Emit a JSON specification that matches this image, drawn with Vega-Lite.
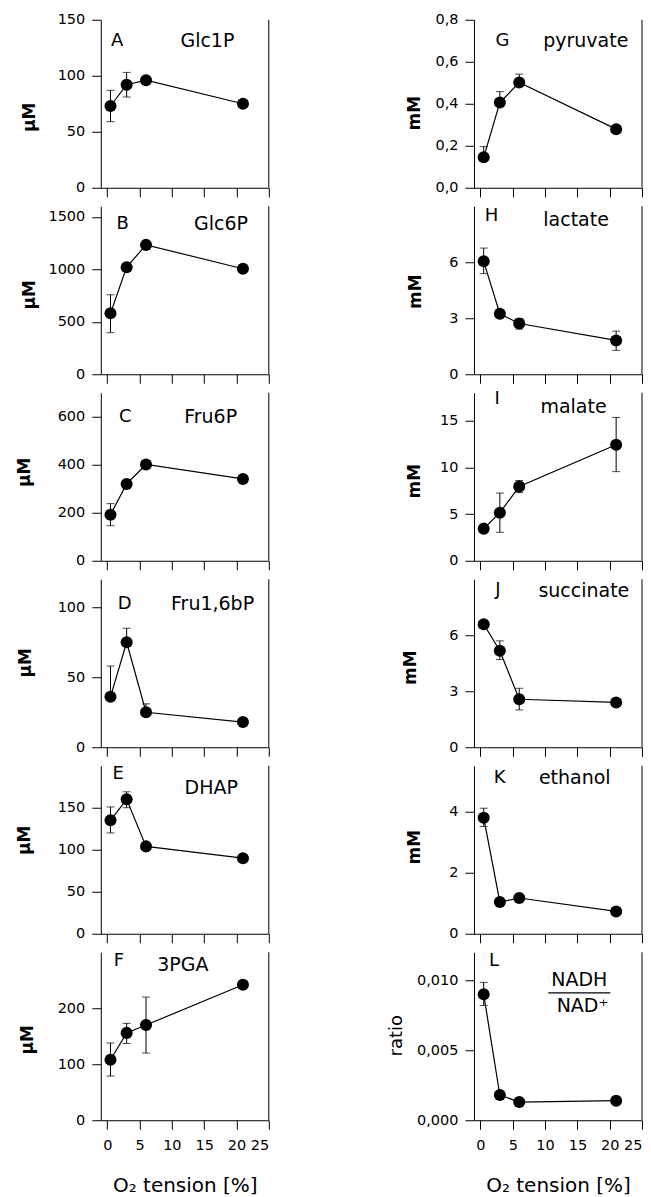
{
  "$schema": "https://vega.github.io/schema/vega-lite/v6.json",
  "autosize": {"type": "pad"},
  "padding": {"left": 14.8, "top": 11.75, "right": 0, "bottom": 0},
  "background": "white",
  "datasets": {
    "A": [{"o2": 0.5, "v": 73, "lo": 59, "hi": 87}, {"o2": 3, "v": 92, "lo": 81, "hi": 103}, {"o2": 6, "v": 96}, {"o2": 21, "v": 75}],
    "B": [{"o2": 0.5, "v": 580, "lo": 396, "hi": 757}, {"o2": 3, "v": 1020}, {"o2": 6, "v": 1232}, {"o2": 21, "v": 1005}],
    "C": [{"o2": 0.5, "v": 192, "lo": 146, "hi": 238}, {"o2": 3, "v": 320}, {"o2": 6, "v": 401}, {"o2": 21, "v": 341}],
    "D": [{"o2": 0.5, "v": 36, "lo": 36, "hi": 58}, {"o2": 3, "v": 75, "lo": 75, "hi": 85}, {"o2": 6, "v": 25, "lo": 25, "hi": 31}, {"o2": 21, "v": 18}],
    "E": [{"o2": 0.5, "v": 135, "lo": 120, "hi": 151}, {"o2": 3, "v": 160, "lo": 150, "hi": 169}, {"o2": 6, "v": 104}, {"o2": 21, "v": 90}],
    "F": [{"o2": 0.5, "v": 108, "lo": 79, "hi": 138}, {"o2": 3, "v": 156, "lo": 137, "hi": 173}, {"o2": 6, "v": 170, "lo": 120, "hi": 220}, {"o2": 21, "v": 242}],
    "G": [{"o2": 0.5, "v": 0.145, "lo": 0.145, "hi": 0.196}, {"o2": 3, "v": 0.406, "lo": 0.406, "hi": 0.458}, {"o2": 6, "v": 0.501, "lo": 0.501, "hi": 0.541}, {"o2": 21, "v": 0.279}],
    "H": [{"o2": 0.5, "v": 6.05, "lo": 5.39, "hi": 6.76}, {"o2": 3, "v": 3.24}, {"o2": 6, "v": 2.72, "lo": 2.42, "hi": 2.98}, {"o2": 21, "v": 1.81, "lo": 1.28, "hi": 2.31}],
    "I": [{"o2": 0.5, "v": 3.44}, {"o2": 3, "v": 5.15, "lo": 3.05, "hi": 7.25}, {"o2": 6, "v": 7.95, "lo": 7.3, "hi": 8.6}, {"o2": 21, "v": 12.43, "lo": 9.55, "hi": 15.35}],
    "J": [{"o2": 0.5, "v": 6.59}, {"o2": 3, "v": 5.17, "lo": 4.7, "hi": 5.7}, {"o2": 6, "v": 2.57, "lo": 2.0, "hi": 3.16}, {"o2": 21, "v": 2.4}],
    "K": [{"o2": 0.5, "v": 3.8, "lo": 3.51, "hi": 4.11}, {"o2": 3, "v": 1.04}, {"o2": 6, "v": 1.17}, {"o2": 21, "v": 0.73}],
    "L": [{"o2": 0.5, "v": 0.009, "lo": 0.0082, "hi": 0.00985}, {"o2": 3, "v": 0.0018}, {"o2": 6, "v": 0.0013}, {"o2": 21, "v": 0.0014}]
  },
  "config": {
    "font": "DejaVu Sans",
    "view": {"stroke": null},
    "axis": {"grid": false, "domainColor": "black", "tickColor": "black", "labelColor": "black", "titleColor": "black", "labelFontSize": 14.5, "tickSize": 9, "domainWidth": 1, "tickWidth": 1, "labelPadding": 7, "labelOverlap": false},
    "axisY": {"titleFontSize": 17, "titleFontWeight": "bold", "titleBaseline": "middle", "titleAlign": "center", "titleAngle": 270},
    "text": {"color": "black", "align": "center", "baseline": "middle"}
  },
  "hconcat": [
    {
      "spacing": 18.5,
      "bounds": "flush",
      "vconcat": [
        {
          "width": 168, "height": 168, "data": {"name": "A"},
          "layer": [
            {"mark": {"type": "line", "color": "black", "strokeWidth": 1.2}, "encoding": {
              "x": {"field": "o2", "type": "quantitative", "scale": {"domain": [-1, 25], "nice": false, "zero": false}, "axis": {"values": [0, 5, 10, 15, 20, 25], "labels": false, "title": null}},
              "y": {"field": "v", "type": "quantitative", "scale": {"domain": [0, 150], "nice": false}, "axis": {"values": [0, 50, 100, 150], "format": "d", "title": "µM", "titleX": -71.2, "titleY": 97}}}},
            {"transform": [{"filter": "isValid(datum.hi)"}], "mark": {"type": "errorbar", "ticks": {"size": 8, "color": "black"}, "rule": {"color": "black"}, "thickness": 1}, "encoding": {
              "x": {"field": "o2", "type": "quantitative", "axis": {"values": [0, 5, 10, 15, 20, 25], "labels": false, "title": null}},
              "y": {"field": "lo", "type": "quantitative", "axis": {"values": [0, 50, 100, 150], "format": "d", "title": "µM", "titleX": -71.2, "titleY": 97}}, "y2": {"field": "hi"}}},
            {"mark": {"type": "circle", "size": 145, "color": "black", "opacity": 1}, "encoding": {
              "x": {"field": "o2", "type": "quantitative", "axis": {"values": [0, 5, 10, 15, 20, 25], "labels": false, "title": null}},
              "y": {"field": "v", "type": "quantitative", "axis": {"values": [0, 50, 100, 150], "format": "d", "title": "µM", "titleX": -71.2, "titleY": 97}}}},
            {"transform": [{"filter": "datum.o2 == 21"}], "mark": {"type": "rule", "color": "black"}, "encoding": {
              "x": {"datum": 25, "type": "quantitative", "axis": {"values": [0, 5, 10, 15, 20, 25], "labels": false, "title": null}}}},
            {"transform": [{"filter": "datum.o2 == 21"}], "mark": {"type": "text", "fontSize": 18}, "encoding": {
              "x": {"datum": 1.55, "type": "quantitative", "axis": {"values": [0, 5, 10, 15, 20, 25], "labels": false, "title": null}},
              "y": {"datum": 131, "type": "quantitative", "axis": {"values": [0, 50, 100, 150], "format": "d", "title": "µM", "titleX": -71.2, "titleY": 97}}, "text": {"value": "A"}}},
            {"transform": [{"filter": "datum.o2 == 21"}], "mark": {"type": "text", "fontSize": 19}, "encoding": {
              "x": {"datum": 15.5, "type": "quantitative", "axis": {"values": [0, 5, 10, 15, 20, 25], "labels": false, "title": null}},
              "y": {"datum": 131, "type": "quantitative", "axis": {"values": [0, 50, 100, 150], "format": "d", "title": "µM", "titleX": -71.2, "titleY": 97}}, "text": {"value": "Glc1P"}}}
          ]
        },
        {
          "width": 168, "height": 168, "data": {"name": "B"},
          "layer": [
            {"mark": {"type": "line", "color": "black", "strokeWidth": 1.2}, "encoding": {
              "x": {"field": "o2", "type": "quantitative", "scale": {"domain": [-1, 25], "nice": false, "zero": false}, "axis": {"values": [0, 5, 10, 15, 20, 25], "labels": false, "title": null}},
              "y": {"field": "v", "type": "quantitative", "scale": {"domain": [0, 1600], "nice": false}, "axis": {"values": [0, 500, 1000, 1500], "format": "d", "title": "µM", "titleX": -71.2, "titleY": 88}}}},
            {"transform": [{"filter": "isValid(datum.hi)"}], "mark": {"type": "errorbar", "ticks": {"size": 8, "color": "black"}, "rule": {"color": "black"}, "thickness": 1}, "encoding": {
              "x": {"field": "o2", "type": "quantitative", "axis": {"values": [0, 5, 10, 15, 20, 25], "labels": false, "title": null}},
              "y": {"field": "lo", "type": "quantitative", "axis": {"values": [0, 500, 1000, 1500], "format": "d", "title": "µM", "titleX": -71.2, "titleY": 88}}, "y2": {"field": "hi"}}},
            {"mark": {"type": "circle", "size": 145, "color": "black", "opacity": 1}, "encoding": {
              "x": {"field": "o2", "type": "quantitative", "axis": {"values": [0, 5, 10, 15, 20, 25], "labels": false, "title": null}},
              "y": {"field": "v", "type": "quantitative", "axis": {"values": [0, 500, 1000, 1500], "format": "d", "title": "µM", "titleX": -71.2, "titleY": 88}}}},
            {"transform": [{"filter": "datum.o2 == 21"}], "mark": {"type": "rule", "color": "black"}, "encoding": {
              "x": {"datum": 25, "type": "quantitative", "axis": {"values": [0, 5, 10, 15, 20, 25], "labels": false, "title": null}}}},
            {"transform": [{"filter": "datum.o2 == 21"}], "mark": {"type": "text", "fontSize": 18}, "encoding": {
              "x": {"datum": 2.4, "type": "quantitative", "axis": {"values": [0, 5, 10, 15, 20, 25], "labels": false, "title": null}},
              "y": {"datum": 1434, "type": "quantitative", "axis": {"values": [0, 500, 1000, 1500], "format": "d", "title": "µM", "titleX": -71.2, "titleY": 88}}, "text": {"value": "B"}}},
            {"transform": [{"filter": "datum.o2 == 21"}], "mark": {"type": "text", "fontSize": 19}, "encoding": {
              "x": {"datum": 17.6, "type": "quantitative", "axis": {"values": [0, 5, 10, 15, 20, 25], "labels": false, "title": null}},
              "y": {"datum": 1434, "type": "quantitative", "axis": {"values": [0, 500, 1000, 1500], "format": "d", "title": "µM", "titleX": -71.2, "titleY": 88}}, "text": {"value": "Glc6P"}}}
          ]
        },
        {
          "width": 168, "height": 168, "data": {"name": "C"},
          "layer": [
            {"mark": {"type": "line", "color": "black", "strokeWidth": 1.2}, "encoding": {
              "x": {"field": "o2", "type": "quantitative", "scale": {"domain": [-1, 25], "nice": false, "zero": false}, "axis": {"values": [0, 5, 10, 15, 20, 25], "labels": false, "title": null}},
              "y": {"field": "v", "type": "quantitative", "scale": {"domain": [0, 700], "nice": false}, "axis": {"values": [0, 200, 400, 600], "format": "d", "title": "µM", "titleX": -75.9, "titleY": 79}}}},
            {"transform": [{"filter": "isValid(datum.hi)"}], "mark": {"type": "errorbar", "ticks": {"size": 8, "color": "black"}, "rule": {"color": "black"}, "thickness": 1}, "encoding": {
              "x": {"field": "o2", "type": "quantitative", "axis": {"values": [0, 5, 10, 15, 20, 25], "labels": false, "title": null}},
              "y": {"field": "lo", "type": "quantitative", "axis": {"values": [0, 200, 400, 600], "format": "d", "title": "µM", "titleX": -75.9, "titleY": 79}}, "y2": {"field": "hi"}}},
            {"mark": {"type": "circle", "size": 145, "color": "black", "opacity": 1}, "encoding": {
              "x": {"field": "o2", "type": "quantitative", "axis": {"values": [0, 5, 10, 15, 20, 25], "labels": false, "title": null}},
              "y": {"field": "v", "type": "quantitative", "axis": {"values": [0, 200, 400, 600], "format": "d", "title": "µM", "titleX": -75.9, "titleY": 79}}}},
            {"transform": [{"filter": "datum.o2 == 21"}], "mark": {"type": "rule", "color": "black"}, "encoding": {
              "x": {"datum": 25, "type": "quantitative", "axis": {"values": [0, 5, 10, 15, 20, 25], "labels": false, "title": null}}}},
            {"transform": [{"filter": "datum.o2 == 21"}], "mark": {"type": "text", "fontSize": 18}, "encoding": {
              "x": {"datum": 2.8, "type": "quantitative", "axis": {"values": [0, 5, 10, 15, 20, 25], "labels": false, "title": null}},
              "y": {"datum": 599, "type": "quantitative", "axis": {"values": [0, 200, 400, 600], "format": "d", "title": "µM", "titleX": -75.9, "titleY": 79}}, "text": {"value": "C"}}},
            {"transform": [{"filter": "datum.o2 == 21"}], "mark": {"type": "text", "fontSize": 19}, "encoding": {
              "x": {"datum": 16.0, "type": "quantitative", "axis": {"values": [0, 5, 10, 15, 20, 25], "labels": false, "title": null}},
              "y": {"datum": 599, "type": "quantitative", "axis": {"values": [0, 200, 400, 600], "format": "d", "title": "µM", "titleX": -75.9, "titleY": 79}}, "text": {"value": "Fru6P"}}}
          ]
        },
        {
          "width": 168, "height": 168, "data": {"name": "D"},
          "layer": [
            {"mark": {"type": "line", "color": "black", "strokeWidth": 1.2}, "encoding": {
              "x": {"field": "o2", "type": "quantitative", "scale": {"domain": [-1, 25], "nice": false, "zero": false}, "axis": {"values": [0, 5, 10, 15, 20, 25], "labels": false, "title": null}},
              "y": {"field": "v", "type": "quantitative", "scale": {"domain": [0, 120], "nice": false}, "axis": {"values": [0, 50, 100], "format": "d", "title": "µM", "titleX": -75.4, "titleY": 83}}}},
            {"transform": [{"filter": "isValid(datum.hi)"}], "mark": {"type": "errorbar", "ticks": {"size": 8, "color": "black"}, "rule": {"color": "black"}, "thickness": 1}, "encoding": {
              "x": {"field": "o2", "type": "quantitative", "axis": {"values": [0, 5, 10, 15, 20, 25], "labels": false, "title": null}},
              "y": {"field": "lo", "type": "quantitative", "axis": {"values": [0, 50, 100], "format": "d", "title": "µM", "titleX": -75.4, "titleY": 83}}, "y2": {"field": "hi"}}},
            {"mark": {"type": "circle", "size": 145, "color": "black", "opacity": 1}, "encoding": {
              "x": {"field": "o2", "type": "quantitative", "axis": {"values": [0, 5, 10, 15, 20, 25], "labels": false, "title": null}},
              "y": {"field": "v", "type": "quantitative", "axis": {"values": [0, 50, 100], "format": "d", "title": "µM", "titleX": -75.4, "titleY": 83}}}},
            {"transform": [{"filter": "datum.o2 == 21"}], "mark": {"type": "rule", "color": "black"}, "encoding": {
              "x": {"datum": 25, "type": "quantitative", "axis": {"values": [0, 5, 10, 15, 20, 25], "labels": false, "title": null}}}},
            {"transform": [{"filter": "datum.o2 == 21"}], "mark": {"type": "text", "fontSize": 18}, "encoding": {
              "x": {"datum": 2.7, "type": "quantitative", "axis": {"values": [0, 5, 10, 15, 20, 25], "labels": false, "title": null}},
              "y": {"datum": 102.4, "type": "quantitative", "axis": {"values": [0, 50, 100], "format": "d", "title": "µM", "titleX": -75.4, "titleY": 83}}, "text": {"value": "D"}}},
            {"transform": [{"filter": "datum.o2 == 21"}], "mark": {"type": "text", "fontSize": 19}, "encoding": {
              "x": {"datum": 16.3, "type": "quantitative", "axis": {"values": [0, 5, 10, 15, 20, 25], "labels": false, "title": null}},
              "y": {"datum": 102.4, "type": "quantitative", "axis": {"values": [0, 50, 100], "format": "d", "title": "µM", "titleX": -75.4, "titleY": 83}}, "text": {"value": "Fru1,6bP"}}}
          ]
        },
        {
          "width": 168, "height": 168, "data": {"name": "E"},
          "layer": [
            {"mark": {"type": "line", "color": "black", "strokeWidth": 1.2}, "encoding": {
              "x": {"field": "o2", "type": "quantitative", "scale": {"domain": [-1, 25], "nice": false, "zero": false}, "axis": {"values": [0, 5, 10, 15, 20, 25], "labels": false, "title": null}},
              "y": {"field": "v", "type": "quantitative", "scale": {"domain": [0, 200], "nice": false}, "axis": {"values": [0, 50, 100, 150], "format": "d", "title": "µM", "titleX": -76.2, "titleY": 74}}}},
            {"transform": [{"filter": "isValid(datum.hi)"}], "mark": {"type": "errorbar", "ticks": {"size": 8, "color": "black"}, "rule": {"color": "black"}, "thickness": 1}, "encoding": {
              "x": {"field": "o2", "type": "quantitative", "axis": {"values": [0, 5, 10, 15, 20, 25], "labels": false, "title": null}},
              "y": {"field": "lo", "type": "quantitative", "axis": {"values": [0, 50, 100, 150], "format": "d", "title": "µM", "titleX": -76.2, "titleY": 74}}, "y2": {"field": "hi"}}},
            {"mark": {"type": "circle", "size": 145, "color": "black", "opacity": 1}, "encoding": {
              "x": {"field": "o2", "type": "quantitative", "axis": {"values": [0, 5, 10, 15, 20, 25], "labels": false, "title": null}},
              "y": {"field": "v", "type": "quantitative", "axis": {"values": [0, 50, 100, 150], "format": "d", "title": "µM", "titleX": -76.2, "titleY": 74}}}},
            {"transform": [{"filter": "datum.o2 == 21"}], "mark": {"type": "rule", "color": "black"}, "encoding": {
              "x": {"datum": 25, "type": "quantitative", "axis": {"values": [0, 5, 10, 15, 20, 25], "labels": false, "title": null}}}},
            {"transform": [{"filter": "datum.o2 == 21"}], "mark": {"type": "text", "fontSize": 18}, "encoding": {
              "x": {"datum": 1.7, "type": "quantitative", "axis": {"values": [0, 5, 10, 15, 20, 25], "labels": false, "title": null}},
              "y": {"datum": 190.5, "type": "quantitative", "axis": {"values": [0, 50, 100, 150], "format": "d", "title": "µM", "titleX": -76.2, "titleY": 74}}, "text": {"value": "E"}}},
            {"transform": [{"filter": "datum.o2 == 21"}], "mark": {"type": "text", "fontSize": 19}, "encoding": {
              "x": {"datum": 16.1, "type": "quantitative", "axis": {"values": [0, 5, 10, 15, 20, 25], "labels": false, "title": null}},
              "y": {"datum": 173.5, "type": "quantitative", "axis": {"values": [0, 50, 100, 150], "format": "d", "title": "µM", "titleX": -76.2, "titleY": 74}}, "text": {"value": "DHAP"}}}
          ]
        },
        {
          "width": 168, "height": 168, "data": {"name": "F"},
          "layer": [
            {"mark": {"type": "line", "color": "black", "strokeWidth": 1.2}, "encoding": {
              "x": {"field": "o2", "type": "quantitative", "scale": {"domain": [-1, 25], "nice": false, "zero": false}, "axis": {"values": [0, 5, 10, 15, 20, 25], "labels": true, "labelPadding": 9, "title": "O₂ tension [%]", "titleFontSize": 20, "titleFontWeight": "normal", "titlePadding": 24}},
              "y": {"field": "v", "type": "quantitative", "scale": {"domain": [0, 300], "nice": false}, "axis": {"values": [0, 100, 200], "format": "d", "title": "µM", "titleX": -73.4, "titleY": 87}}}},
            {"transform": [{"filter": "isValid(datum.hi)"}], "mark": {"type": "errorbar", "ticks": {"size": 8, "color": "black"}, "rule": {"color": "black"}, "thickness": 1}, "encoding": {
              "x": {"field": "o2", "type": "quantitative", "axis": {"values": [0, 5, 10, 15, 20, 25], "labels": true, "labelPadding": 9, "title": "O₂ tension [%]", "titleFontSize": 20, "titleFontWeight": "normal", "titlePadding": 24}},
              "y": {"field": "lo", "type": "quantitative", "axis": {"values": [0, 100, 200], "format": "d", "title": "µM", "titleX": -73.4, "titleY": 87}}, "y2": {"field": "hi"}}},
            {"mark": {"type": "circle", "size": 145, "color": "black", "opacity": 1}, "encoding": {
              "x": {"field": "o2", "type": "quantitative", "axis": {"values": [0, 5, 10, 15, 20, 25], "labels": true, "labelPadding": 9, "title": "O₂ tension [%]", "titleFontSize": 20, "titleFontWeight": "normal", "titlePadding": 24}},
              "y": {"field": "v", "type": "quantitative", "axis": {"values": [0, 100, 200], "format": "d", "title": "µM", "titleX": -73.4, "titleY": 87}}}},
            {"transform": [{"filter": "datum.o2 == 21"}], "mark": {"type": "rule", "color": "black"}, "encoding": {
              "x": {"datum": 25, "type": "quantitative", "axis": {"values": [0, 5, 10, 15, 20, 25], "labels": true, "labelPadding": 9, "title": "O₂ tension [%]", "titleFontSize": 20, "titleFontWeight": "normal", "titlePadding": 24}}}},
            {"transform": [{"filter": "datum.o2 == 21"}], "mark": {"type": "text", "fontSize": 18}, "encoding": {
              "x": {"datum": 1.8, "type": "quantitative", "axis": {"values": [0, 5, 10, 15, 20, 25], "labels": true, "labelPadding": 9, "title": "O₂ tension [%]", "titleFontSize": 20, "titleFontWeight": "normal", "titlePadding": 24}},
              "y": {"datum": 284, "type": "quantitative", "axis": {"values": [0, 100, 200], "format": "d", "title": "µM", "titleX": -73.4, "titleY": 87}}, "text": {"value": "F"}}},
            {"transform": [{"filter": "datum.o2 == 21"}], "mark": {"type": "text", "fontSize": 19}, "encoding": {
              "x": {"datum": 11.7, "type": "quantitative", "axis": {"values": [0, 5, 10, 15, 20, 25], "labels": true, "labelPadding": 9, "title": "O₂ tension [%]", "titleFontSize": 20, "titleFontWeight": "normal", "titlePadding": 24}},
              "y": {"datum": 277, "type": "quantitative", "axis": {"values": [0, 100, 200], "format": "d", "title": "µM", "titleX": -73.4, "titleY": 87}}, "text": {"value": "3PGA"}}}
          ]
        }
      ]
    },
    {
      "spacing": 18.5,
      "bounds": "flush",
      "vconcat": [
        {
          "width": 168, "height": 168, "data": {"name": "G"},
          "layer": [
            {"mark": {"type": "line", "color": "black", "strokeWidth": 1.2}, "encoding": {
              "x": {"field": "o2", "type": "quantitative", "scale": {"domain": [-1, 25], "nice": false, "zero": false}, "axis": {"values": [0, 5, 10, 15, 20, 25], "labels": false, "title": null}},
              "y": {"field": "v", "type": "quantitative", "scale": {"domain": [0, 0.8], "nice": false}, "axis": {"values": [0, 0.2, 0.4, 0.6, 0.8], "labelExpr": "replace(format(datum.value, '.1f'), '.', ',')", "title": "mM", "titleX": -59.9, "titleY": 93}}}},
            {"transform": [{"filter": "isValid(datum.hi)"}], "mark": {"type": "errorbar", "ticks": {"size": 8, "color": "black"}, "rule": {"color": "black"}, "thickness": 1}, "encoding": {
              "x": {"field": "o2", "type": "quantitative", "axis": {"values": [0, 5, 10, 15, 20, 25], "labels": false, "title": null}},
              "y": {"field": "lo", "type": "quantitative", "axis": {"values": [0, 0.2, 0.4, 0.6, 0.8], "labelExpr": "replace(format(datum.value, '.1f'), '.', ',')", "title": "mM", "titleX": -59.9, "titleY": 93}}, "y2": {"field": "hi"}}},
            {"mark": {"type": "circle", "size": 145, "color": "black", "opacity": 1}, "encoding": {
              "x": {"field": "o2", "type": "quantitative", "axis": {"values": [0, 5, 10, 15, 20, 25], "labels": false, "title": null}},
              "y": {"field": "v", "type": "quantitative", "axis": {"values": [0, 0.2, 0.4, 0.6, 0.8], "labelExpr": "replace(format(datum.value, '.1f'), '.', ',')", "title": "mM", "titleX": -59.9, "titleY": 93}}}},
            {"transform": [{"filter": "datum.o2 == 21"}], "mark": {"type": "rule", "color": "black"}, "encoding": {
              "x": {"datum": 25, "type": "quantitative", "axis": {"values": [0, 5, 10, 15, 20, 25], "labels": false, "title": null}}}},
            {"transform": [{"filter": "datum.o2 == 21"}], "mark": {"type": "text", "fontSize": 18}, "encoding": {
              "x": {"datum": 3.4, "type": "quantitative", "axis": {"values": [0, 5, 10, 15, 20, 25], "labels": false, "title": null}},
              "y": {"datum": 0.70, "type": "quantitative", "axis": {"values": [0, 0.2, 0.4, 0.6, 0.8], "labelExpr": "replace(format(datum.value, '.1f'), '.', ',')", "title": "mM", "titleX": -59.9, "titleY": 93}}, "text": {"value": "G"}}},
            {"transform": [{"filter": "datum.o2 == 21"}], "mark": {"type": "text", "fontSize": 19}, "encoding": {
              "x": {"datum": 16.3, "type": "quantitative", "axis": {"values": [0, 5, 10, 15, 20, 25], "labels": false, "title": null}},
              "y": {"datum": 0.70, "type": "quantitative", "axis": {"values": [0, 0.2, 0.4, 0.6, 0.8], "labelExpr": "replace(format(datum.value, '.1f'), '.', ',')", "title": "mM", "titleX": -59.9, "titleY": 93}}, "text": {"value": "pyruvate"}}}
          ]
        },
        {
          "width": 168, "height": 168, "data": {"name": "H"},
          "layer": [
            {"mark": {"type": "line", "color": "black", "strokeWidth": 1.2}, "encoding": {
              "x": {"field": "o2", "type": "quantitative", "scale": {"domain": [-1, 25], "nice": false, "zero": false}, "axis": {"values": [0, 5, 10, 15, 20, 25], "labels": false, "title": null}},
              "y": {"field": "v", "type": "quantitative", "scale": {"domain": [0, 9], "nice": false}, "axis": {"values": [0, 3, 6], "title": "mM", "titleX": -58.3, "titleY": 85}}}},
            {"transform": [{"filter": "isValid(datum.hi)"}], "mark": {"type": "errorbar", "ticks": {"size": 8, "color": "black"}, "rule": {"color": "black"}, "thickness": 1}, "encoding": {
              "x": {"field": "o2", "type": "quantitative", "axis": {"values": [0, 5, 10, 15, 20, 25], "labels": false, "title": null}},
              "y": {"field": "lo", "type": "quantitative", "axis": {"values": [0, 3, 6], "title": "mM", "titleX": -58.3, "titleY": 85}}, "y2": {"field": "hi"}}},
            {"mark": {"type": "circle", "size": 145, "color": "black", "opacity": 1}, "encoding": {
              "x": {"field": "o2", "type": "quantitative", "axis": {"values": [0, 5, 10, 15, 20, 25], "labels": false, "title": null}},
              "y": {"field": "v", "type": "quantitative", "axis": {"values": [0, 3, 6], "title": "mM", "titleX": -58.3, "titleY": 85}}}},
            {"transform": [{"filter": "datum.o2 == 21"}], "mark": {"type": "rule", "color": "black"}, "encoding": {
              "x": {"datum": 25, "type": "quantitative", "axis": {"values": [0, 5, 10, 15, 20, 25], "labels": false, "title": null}}}},
            {"transform": [{"filter": "datum.o2 == 21"}], "mark": {"type": "text", "fontSize": 18}, "encoding": {
              "x": {"datum": 1.7, "type": "quantitative", "axis": {"values": [0, 5, 10, 15, 20, 25], "labels": false, "title": null}},
              "y": {"datum": 8.49, "type": "quantitative", "axis": {"values": [0, 3, 6], "title": "mM", "titleX": -58.3, "titleY": 85}}, "text": {"value": "H"}}},
            {"transform": [{"filter": "datum.o2 == 21"}], "mark": {"type": "text", "fontSize": 19}, "encoding": {
              "x": {"datum": 14.8, "type": "quantitative", "axis": {"values": [0, 5, 10, 15, 20, 25], "labels": false, "title": null}},
              "y": {"datum": 8.24, "type": "quantitative", "axis": {"values": [0, 3, 6], "title": "mM", "titleX": -58.3, "titleY": 85}}, "text": {"value": "lactate"}}}
          ]
        },
        {
          "width": 168, "height": 168, "data": {"name": "I"},
          "layer": [
            {"mark": {"type": "line", "color": "black", "strokeWidth": 1.2}, "encoding": {
              "x": {"field": "o2", "type": "quantitative", "scale": {"domain": [-1, 25], "nice": false, "zero": false}, "axis": {"values": [0, 5, 10, 15, 20, 25], "labels": false, "title": null}},
              "y": {"field": "v", "type": "quantitative", "scale": {"domain": [0, 18], "nice": false}, "axis": {"values": [0, 5, 10, 15], "title": "mM", "titleX": -59.6, "titleY": 88}}}},
            {"transform": [{"filter": "isValid(datum.hi)"}], "mark": {"type": "errorbar", "ticks": {"size": 8, "color": "black"}, "rule": {"color": "black"}, "thickness": 1}, "encoding": {
              "x": {"field": "o2", "type": "quantitative", "axis": {"values": [0, 5, 10, 15, 20, 25], "labels": false, "title": null}},
              "y": {"field": "lo", "type": "quantitative", "axis": {"values": [0, 5, 10, 15], "title": "mM", "titleX": -59.6, "titleY": 88}}, "y2": {"field": "hi"}}},
            {"mark": {"type": "circle", "size": 145, "color": "black", "opacity": 1}, "encoding": {
              "x": {"field": "o2", "type": "quantitative", "axis": {"values": [0, 5, 10, 15, 20, 25], "labels": false, "title": null}},
              "y": {"field": "v", "type": "quantitative", "axis": {"values": [0, 5, 10, 15], "title": "mM", "titleX": -59.6, "titleY": 88}}}},
            {"transform": [{"filter": "datum.o2 == 21"}], "mark": {"type": "rule", "color": "black"}, "encoding": {
              "x": {"datum": 25, "type": "quantitative", "axis": {"values": [0, 5, 10, 15, 20, 25], "labels": false, "title": null}}}},
            {"transform": [{"filter": "datum.o2 == 21"}], "mark": {"type": "text", "fontSize": 18}, "encoding": {
              "x": {"datum": 2.6, "type": "quantitative", "axis": {"values": [0, 5, 10, 15, 20, 25], "labels": false, "title": null}},
              "y": {"datum": 17.3, "type": "quantitative", "axis": {"values": [0, 5, 10, 15], "title": "mM", "titleX": -59.6, "titleY": 88}}, "text": {"value": "I"}}},
            {"transform": [{"filter": "datum.o2 == 21"}], "mark": {"type": "text", "fontSize": 19}, "encoding": {
              "x": {"datum": 14.4, "type": "quantitative", "axis": {"values": [0, 5, 10, 15, 20, 25], "labels": false, "title": null}},
              "y": {"datum": 16.5, "type": "quantitative", "axis": {"values": [0, 5, 10, 15], "title": "mM", "titleX": -59.6, "titleY": 88}}, "text": {"value": "malate"}}}
          ]
        },
        {
          "width": 168, "height": 168, "data": {"name": "J"},
          "layer": [
            {"mark": {"type": "line", "color": "black", "strokeWidth": 1.2}, "encoding": {
              "x": {"field": "o2", "type": "quantitative", "scale": {"domain": [-1, 25], "nice": false, "zero": false}, "axis": {"values": [0, 5, 10, 15, 20, 25], "labels": false, "title": null}},
              "y": {"field": "v", "type": "quantitative", "scale": {"domain": [0, 9], "nice": false}, "axis": {"values": [0, 3, 6], "title": "mM", "titleX": -63.3, "titleY": 88}}}},
            {"transform": [{"filter": "isValid(datum.hi)"}], "mark": {"type": "errorbar", "ticks": {"size": 8, "color": "black"}, "rule": {"color": "black"}, "thickness": 1}, "encoding": {
              "x": {"field": "o2", "type": "quantitative", "axis": {"values": [0, 5, 10, 15, 20, 25], "labels": false, "title": null}},
              "y": {"field": "lo", "type": "quantitative", "axis": {"values": [0, 3, 6], "title": "mM", "titleX": -63.3, "titleY": 88}}, "y2": {"field": "hi"}}},
            {"mark": {"type": "circle", "size": 145, "color": "black", "opacity": 1}, "encoding": {
              "x": {"field": "o2", "type": "quantitative", "axis": {"values": [0, 5, 10, 15, 20, 25], "labels": false, "title": null}},
              "y": {"field": "v", "type": "quantitative", "axis": {"values": [0, 3, 6], "title": "mM", "titleX": -63.3, "titleY": 88}}}},
            {"transform": [{"filter": "datum.o2 == 21"}], "mark": {"type": "rule", "color": "black"}, "encoding": {
              "x": {"datum": 25, "type": "quantitative", "axis": {"values": [0, 5, 10, 15, 20, 25], "labels": false, "title": null}}}},
            {"transform": [{"filter": "datum.o2 == 21"}], "mark": {"type": "text", "fontSize": 18}, "encoding": {
              "x": {"datum": 2.7, "type": "quantitative", "axis": {"values": [0, 5, 10, 15, 20, 25], "labels": false, "title": null}},
              "y": {"datum": 8.43, "type": "quantitative", "axis": {"values": [0, 3, 6], "title": "mM", "titleX": -63.3, "titleY": 88}}, "text": {"value": "J"}}},
            {"transform": [{"filter": "datum.o2 == 21"}], "mark": {"type": "text", "fontSize": 19}, "encoding": {
              "x": {"datum": 16.0, "type": "quantitative", "axis": {"values": [0, 5, 10, 15, 20, 25], "labels": false, "title": null}},
              "y": {"datum": 8.36, "type": "quantitative", "axis": {"values": [0, 3, 6], "title": "mM", "titleX": -63.3, "titleY": 88}}, "text": {"value": "succinate"}}}
          ]
        },
        {
          "width": 168, "height": 168, "data": {"name": "K"},
          "layer": [
            {"mark": {"type": "line", "color": "black", "strokeWidth": 1.2}, "encoding": {
              "x": {"field": "o2", "type": "quantitative", "scale": {"domain": [-1, 25], "nice": false, "zero": false}, "axis": {"values": [0, 5, 10, 15, 20, 25], "labels": false, "title": null}},
              "y": {"field": "v", "type": "quantitative", "scale": {"domain": [0, 5.5], "nice": false}, "axis": {"values": [0, 2, 4], "title": "mM", "titleX": -59.1, "titleY": 81}}}},
            {"transform": [{"filter": "isValid(datum.hi)"}], "mark": {"type": "errorbar", "ticks": {"size": 8, "color": "black"}, "rule": {"color": "black"}, "thickness": 1}, "encoding": {
              "x": {"field": "o2", "type": "quantitative", "axis": {"values": [0, 5, 10, 15, 20, 25], "labels": false, "title": null}},
              "y": {"field": "lo", "type": "quantitative", "axis": {"values": [0, 2, 4], "title": "mM", "titleX": -59.1, "titleY": 81}}, "y2": {"field": "hi"}}},
            {"mark": {"type": "circle", "size": 145, "color": "black", "opacity": 1}, "encoding": {
              "x": {"field": "o2", "type": "quantitative", "axis": {"values": [0, 5, 10, 15, 20, 25], "labels": false, "title": null}},
              "y": {"field": "v", "type": "quantitative", "axis": {"values": [0, 2, 4], "title": "mM", "titleX": -59.1, "titleY": 81}}}},
            {"transform": [{"filter": "datum.o2 == 21"}], "mark": {"type": "rule", "color": "black"}, "encoding": {
              "x": {"datum": 25, "type": "quantitative", "axis": {"values": [0, 5, 10, 15, 20, 25], "labels": false, "title": null}}}},
            {"transform": [{"filter": "datum.o2 == 21"}], "mark": {"type": "text", "fontSize": 18}, "encoding": {
              "x": {"datum": 2.95, "type": "quantitative", "axis": {"values": [0, 5, 10, 15, 20, 25], "labels": false, "title": null}},
              "y": {"datum": 5.1, "type": "quantitative", "axis": {"values": [0, 2, 4], "title": "mM", "titleX": -59.1, "titleY": 81}}, "text": {"value": "K"}}},
            {"transform": [{"filter": "datum.o2 == 21"}], "mark": {"type": "text", "fontSize": 19}, "encoding": {
              "x": {"datum": 14.6, "type": "quantitative", "axis": {"values": [0, 5, 10, 15, 20, 25], "labels": false, "title": null}},
              "y": {"datum": 5.1, "type": "quantitative", "axis": {"values": [0, 2, 4], "title": "mM", "titleX": -59.1, "titleY": 81}}, "text": {"value": "ethanol"}}}
          ]
        },
        {
          "width": 168, "height": 168, "data": {"name": "L"},
          "layer": [
            {"mark": {"type": "line", "color": "black", "strokeWidth": 1.2}, "encoding": {
              "x": {"field": "o2", "type": "quantitative", "scale": {"domain": [-1, 25], "nice": false, "zero": false}, "axis": {"values": [0, 5, 10, 15, 20, 25], "labels": true, "labelPadding": 9, "title": "O₂ tension [%]", "titleFontSize": 20, "titleFontWeight": "normal", "titlePadding": 24}},
              "y": {"field": "v", "type": "quantitative", "scale": {"domain": [0, 0.012], "nice": false}, "axis": {"values": [0, 0.005, 0.01], "labelExpr": "replace(format(datum.value, '.3f'), '.', ',')", "title": "ratio", "titleFontWeight": "normal", "titleFontSize": 18, "titleX": -77.8, "titleY": 83}}}},
            {"transform": [{"filter": "isValid(datum.hi)"}], "mark": {"type": "errorbar", "ticks": {"size": 8, "color": "black"}, "rule": {"color": "black"}, "thickness": 1}, "encoding": {
              "x": {"field": "o2", "type": "quantitative", "axis": {"values": [0, 5, 10, 15, 20, 25], "labels": true, "labelPadding": 9, "title": "O₂ tension [%]", "titleFontSize": 20, "titleFontWeight": "normal", "titlePadding": 24}},
              "y": {"field": "lo", "type": "quantitative", "axis": {"values": [0, 0.005, 0.01], "labelExpr": "replace(format(datum.value, '.3f'), '.', ',')", "title": "ratio", "titleFontWeight": "normal", "titleFontSize": 18, "titleX": -77.8, "titleY": 83}}, "y2": {"field": "hi"}}},
            {"mark": {"type": "circle", "size": 145, "color": "black", "opacity": 1}, "encoding": {
              "x": {"field": "o2", "type": "quantitative", "axis": {"values": [0, 5, 10, 15, 20, 25], "labels": true, "labelPadding": 9, "title": "O₂ tension [%]", "titleFontSize": 20, "titleFontWeight": "normal", "titlePadding": 24}},
              "y": {"field": "v", "type": "quantitative", "axis": {"values": [0, 0.005, 0.01], "labelExpr": "replace(format(datum.value, '.3f'), '.', ',')", "title": "ratio", "titleFontWeight": "normal", "titleFontSize": 18, "titleX": -77.8, "titleY": 83}}}},
            {"transform": [{"filter": "datum.o2 == 21"}], "mark": {"type": "rule", "color": "black"}, "encoding": {
              "x": {"datum": 25, "type": "quantitative", "axis": {"values": [0, 5, 10, 15, 20, 25], "labels": true, "labelPadding": 9, "title": "O₂ tension [%]", "titleFontSize": 20, "titleFontWeight": "normal", "titlePadding": 24}}}},
            {"transform": [{"filter": "datum.o2 == 21"}], "mark": {"type": "rule", "color": "black", "strokeWidth": 1.3}, "encoding": {
              "x": {"datum": 10.5, "type": "quantitative", "axis": {"values": [0, 5, 10, 15, 20, 25], "labels": true, "labelPadding": 9, "title": "O₂ tension [%]", "titleFontSize": 20, "titleFontWeight": "normal", "titlePadding": 24}},
              "x2": {"datum": 20.1},
              "y": {"datum": 0.0091, "type": "quantitative", "axis": {"values": [0, 0.005, 0.01], "labelExpr": "replace(format(datum.value, '.3f'), '.', ',')", "title": "ratio", "titleFontWeight": "normal", "titleFontSize": 18, "titleX": -77.8, "titleY": 83}}}},
            {"transform": [{"filter": "datum.o2 == 21"}], "mark": {"type": "text", "fontSize": 18}, "encoding": {
              "x": {"datum": 2.1, "type": "quantitative", "axis": {"values": [0, 5, 10, 15, 20, 25], "labels": true, "labelPadding": 9, "title": "O₂ tension [%]", "titleFontSize": 20, "titleFontWeight": "normal", "titlePadding": 24}},
              "y": {"datum": 0.01135, "type": "quantitative", "axis": {"values": [0, 0.005, 0.01], "labelExpr": "replace(format(datum.value, '.3f'), '.', ',')", "title": "ratio", "titleFontWeight": "normal", "titleFontSize": 18, "titleX": -77.8, "titleY": 83}}, "text": {"value": "L"}}},
            {"transform": [{"filter": "datum.o2 == 21"}], "mark": {"type": "text", "fontSize": 19}, "encoding": {
              "x": {"datum": 15.3, "type": "quantitative", "axis": {"values": [0, 5, 10, 15, 20, 25], "labels": true, "labelPadding": 9, "title": "O₂ tension [%]", "titleFontSize": 20, "titleFontWeight": "normal", "titlePadding": 24}},
              "y": {"datum": 0.00999, "type": "quantitative", "axis": {"values": [0, 0.005, 0.01], "labelExpr": "replace(format(datum.value, '.3f'), '.', ',')", "title": "ratio", "titleFontWeight": "normal", "titleFontSize": 18, "titleX": -77.8, "titleY": 83}}, "text": {"value": "NADH"}}},
            {"transform": [{"filter": "datum.o2 == 21"}], "mark": {"type": "text", "fontSize": 19}, "encoding": {
              "x": {"datum": 15.8, "type": "quantitative", "axis": {"values": [0, 5, 10, 15, 20, 25], "labels": true, "labelPadding": 9, "title": "O₂ tension [%]", "titleFontSize": 20, "titleFontWeight": "normal", "titlePadding": 24}},
              "y": {"datum": 0.00814, "type": "quantitative", "axis": {"values": [0, 0.005, 0.01], "labelExpr": "replace(format(datum.value, '.3f'), '.', ',')", "title": "ratio", "titleFontWeight": "normal", "titleFontSize": 18, "titleX": -77.8, "titleY": 83}}, "text": {"value": "NAD⁺"}}}
          ]
        }
      ]
    }
  ],
  "spacing": 373.2,
  "bounds": "flush"
}
